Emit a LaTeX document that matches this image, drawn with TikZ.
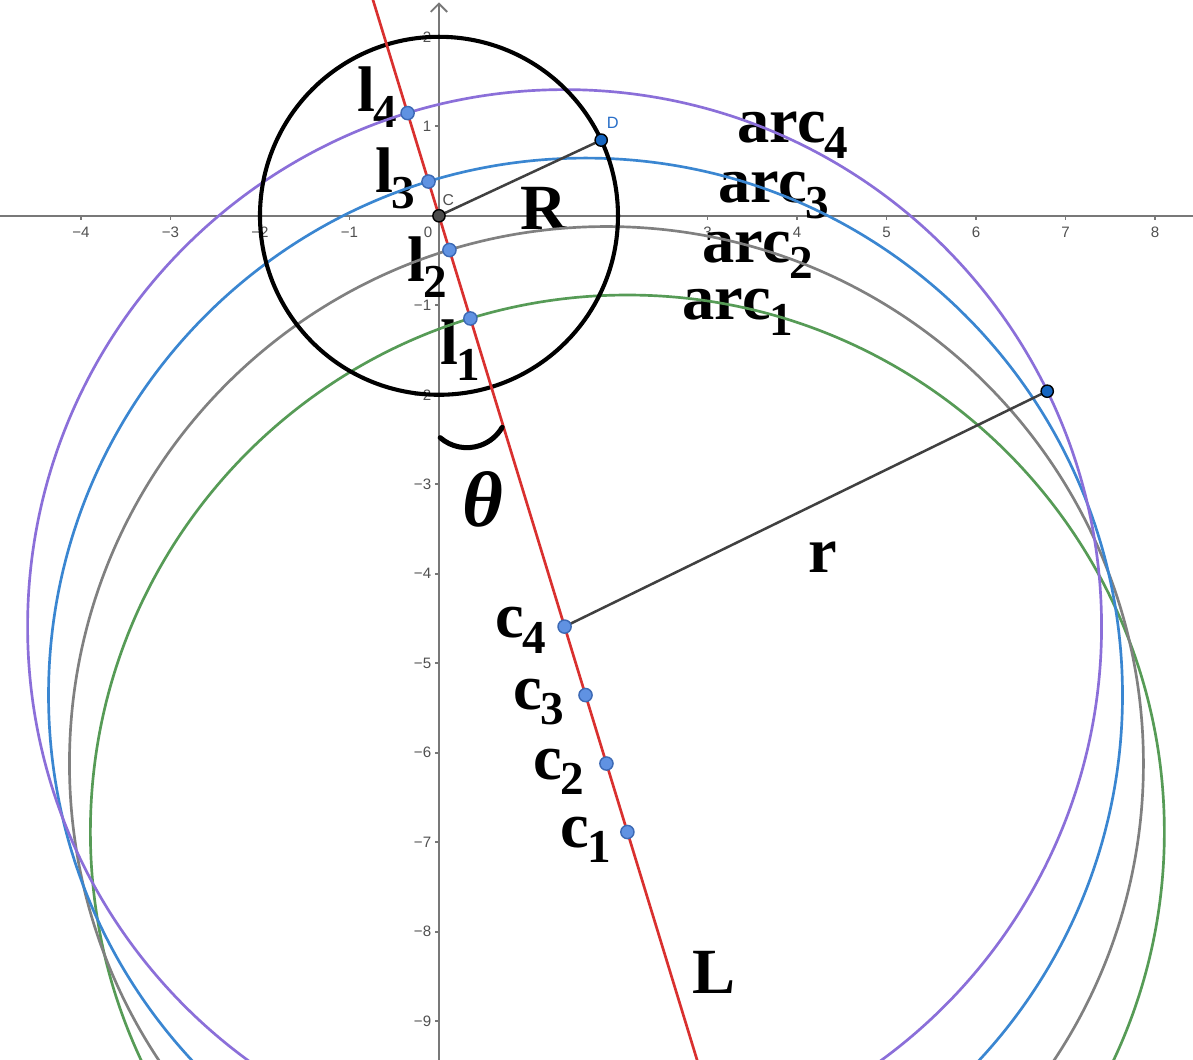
\documentclass[tikz,border=0pt]{standalone}
\usepackage{fontspec}
\setmainfont{Liberation Serif}
\newfontfamily\tickfont{Liberation Sans}
\usetikzlibrary{arrows.meta,calc}
\definecolor{cpurple}{RGB}{139,111,217}
\definecolor{cblue}{RGB}{58,134,209}
\definecolor{cgray}{RGB}{128,128,128}
\definecolor{cgreen}{RGB}{86,155,86}
\definecolor{cred}{RGB}{217,48,47}
\definecolor{ptblue}{RGB}{96,146,226}
\definecolor{ptedge}{RGB}{60,105,180}
\definecolor{ptdark}{RGB}{21,101,192}
\definecolor{axisgray}{RGB}{120,120,120}
\definecolor{tickgray}{RGB}{80,80,80}
\definecolor{seggray}{RGB}{64,64,64}
\definecolor{dlabel}{RGB}{40,110,200}
\newcommand\subx[1]{\kern-0.6pt\raisebox{-5pt}{\fontsize{15}{15}\selectfont #1}}
\tikzset{
  axisline/.style={draw=axisgray, line width=0.65pt},
  tickmark/.style={draw=axisgray, line width=0.55pt},
  ticklab/.style={font=\tickfont\fontsize{4.8}{5}\selectfont, text=tickgray, inner sep=0pt},
  ggpt/.style={circle, fill=ptblue, draw=ptedge, line width=0.45pt, minimum size=4.2pt, inner sep=0pt},
  darkpt/.style={circle, fill=ptdark, draw=black, line width=0.45pt, minimum size=3.9pt, inner sep=0pt},
  cpt/.style={circle, fill=black!70, draw=black, line width=0.45pt, minimum size=3.9pt, inner sep=0pt},
  lab/.style={anchor=base west, inner sep=0pt, font=\fontsize{20.5}{22}\selectfont\bfseries},
  thetalab/.style={anchor=base west, inner sep=0pt, font=\fontsize{25}{26}\selectfont\bfseries\itshape},
  arcline/.style={line width=0.85pt},
  seg/.style={draw=seggray, line width=0.8pt},
}
\begin{document}
\begin{tikzpicture}
\useasboundingbox (-4.905,-9.431) rectangle (8.425,2.411);
\clip (-4.905,-9.431) rectangle (8.425,2.411);
\fill[white] (-4.905,-9.431) rectangle (8.425,2.411);

% axes
\draw[axisline] (-4.95,0) -- (8.5,0);
\draw[axisline, -{Straight Barb[length=2.6pt,width=5.2pt,line width=0.6pt]}] (0,-9.5) -- (0,2.385);
\foreach \x in {-5,-4,-3,-2,-1,1,2,3,4,5,6,7,8} \draw[tickmark] (\x,0) -- (\x,-0.045);
\foreach \y in {-9,-8,-7,-6,-5,-4,-3,-2,-1,1,2} \draw[tickmark] (0,\y) -- (-0.045,\y);
\foreach \x in {-5,-4,-3,-2,-1} \node[ticklab] at (\x,-0.18) {−\the\numexpr-\x\relax};
\foreach \x in {3,4,5,6,7,8} \node[ticklab] at (\x,-0.18) {\x};
\node[ticklab] at (-0.123,-0.18) {0};
\foreach \y in {-9,-8,-7,-6,-5,-4,-3,-2,-1} \node[ticklab, anchor=east] at (-0.08,\y) {−\the\numexpr-\y\relax};
\foreach \y in {1,2} \node[ticklab, anchor=east] at (-0.08,\y) {\y};

% key points
\coordinate (C) at (0,0);
\coordinate (D) at (25:2);
\coordinate (c1) at (-73:7.2);
\coordinate (c2) at (-73:6.4);
\coordinate (c3) at (-73:5.6);
\coordinate (c4) at (-73:4.8);
\coordinate (l1) at (-73:1.2);
\coordinate (l2) at (-73:0.4);
\coordinate (l3) at (107:0.4);
\coordinate (l4) at (107:1.2);
\coordinate (P) at ($(c4)+(26:6)$);
\coordinate (Ltop) at (107:2.7);
\coordinate (Lbot) at (-73:10.2);

% labels
\node[lab] (l4lab) at (-0.916,1.161) {l\subx{4}};
\node[lab] (l3lab) at (-0.715,0.257) {l\subx{3}};
\node[lab] (l2lab) at (-0.358,-0.737) {l\subx{2}};
\node[lab] (l1lab) at (0.011,-1.663) {l\subx{1}};
\node[lab] (Rlab) at (0.905,-0.156) {R};
\node[lab] (arc4lab) at (3.330,0.815) {arc\subx{4}};
\node[lab] (arc3lab) at (3.117,0.145) {arc\subx{3}};
\node[lab] (arc2lab) at (2.939,-0.525) {arc\subx{2}};
\node[lab] (arc1lab) at (2.715,-1.161) {arc\subx{1}};
\node[lab] (c4lab) at (0.626,-4.710) {c\subx{4}};
\node[lab] (c3lab) at (0.827,-5.513) {c\subx{3}};
\node[lab] (c2lab) at (1.050,-6.295) {c\subx{2}};
\node[lab] (c1lab) at (1.352,-7.054) {c\subx{1}};
\node[lab] (Llab) at (2.827,-8.694) {L};
\node[lab] (rlab) at (4.123,-3.984) {r};
\node[thetalab] (thlab) at (0.257,-3.471) {θ};

% circles
\draw[arcline, cgreen] (c1) circle[radius=6];
\draw[arcline, cgray] (c2) circle[radius=6];
\draw[arcline, cblue] (c3) circle[radius=6];
\draw[arcline, cpurple] (c4) circle[radius=6];
\draw[line width=1.3pt, black] (C) circle[radius=2];

% line L
\draw[line width=0.85pt, cred] (Ltop) -- (Lbot);

% angle mark
\draw[line width=1.6pt, line cap=round] (0.312,-2.136) ++(-131:0.455) arc[start angle=-131, end angle=-30, radius=0.455];

% segments
\draw[seg] (C) -- (D);
\draw[seg] (c4) -- (P);

% points
\foreach \p in {l1,l2,l3,l4,c1,c2,c3,c4} \node[ggpt] (\p pt) at (\p) {};
\node[cpt] (Cpt) at (C) {};
\node[darkpt] (Dpt) at (D) {};
\node[darkpt] (Ppt) at (P) {};
\node[ticklab, font=\tickfont\fontsize{5}{6}\selectfont] (Clab) at (0.104,0.179) {C};
\node[ticklab, font=\tickfont\fontsize{5.2}{6}\selectfont, text=dlabel] (Dlab) at (1.941,1.041) {D};
\end{tikzpicture}
\end{document}
